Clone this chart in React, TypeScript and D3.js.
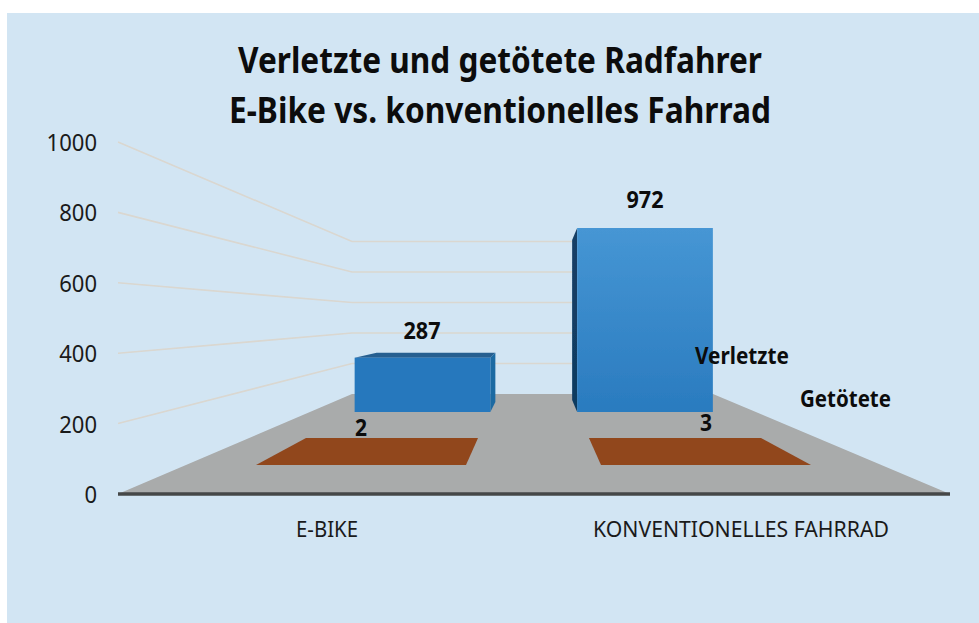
import React from "react";
import * as d3 from "d3";

const categories = ["E-BIKE", "KONVENTIONELLES FAHRRAD"];
const verletzte = [287, 972];
const getotete = [2, 3];
const yTicks = [0, 200, 400, 600, 800, 1000];
const titleLines = ["Verletzte und getötete Radfahrer", "E-Bike vs. konventionelles Fahrrad"];
const seriesNames = ["Verletzte", "Getötete"];

const W = 979, H = 623;
const FONT = "'Noto Sans', sans-serif";

const yFront = d3.scaleLinear().domain([0, 1000]).range([494, 142]);
const yBack = d3.scaleLinear().domain([0, 1000]).range([394, 241.5]);
const yBar = d3.scaleLinear().domain([0, 1000]).range([412, 222.7]);

const xBlue = d3.scaleBand<string>().domain(categories).range([311.25, 756.25]).paddingInner(0.39).paddingOuter(0.195);
const xBrownFront = d3.scaleBand<string>().domain(categories).range([256, 811]).paddingInner(0.3913).paddingOuter(0);
const xBrownBack = d3.scaleBand<string>().domain(categories).range([306, 761]).paddingInner(0.392).paddingOuter(0);

const catLabelX = [327, 741];
const catTextLen = [62, 296];

export default function App() {
  const floorY0 = yFront(0);
  const backY0 = yBack(0);
  const line = d3.line();
  const polyFill = (pts: [number, number][]) => line(pts) + "Z";

  return (
    <svg width={W} height={H} style={{ position: "absolute", left: 0, top: 0, background: "#fff" }} fontFamily={FONT}>
      <defs>
        <linearGradient id="blue" gradientUnits="userSpaceOnUse" x1="0" y1="228" x2="0" y2="412">
          <stop offset="0" stopColor="#4696d4" />
          <stop offset="1" stopColor="#2a7bbf" />
        </linearGradient>
        <linearGradient id="dark" gradientUnits="userSpaceOnUse" x1="0" y1="228" x2="0" y2="412">
          <stop offset="0" stopColor="#143f66" />
          <stop offset="1" stopColor="#103a60" />
        </linearGradient>
        <filter id="soft" x="-5%" y="-5%" width="110%" height="110%">
          <feGaussianBlur stdDeviation="0.5" />
        </filter>
      </defs>
      <rect x={7} y={13} width={W - 7} height={H - 13} fill="#d2e5f3" />

      <g filter="url(#soft)">
        {yTicks.filter((t) => t > 0).map((t) => (
          <path
            key={t}
            d={line([[118, yFront(t)], [352, yBack(t)], [712, yBack(t)]]) || ""}
            fill="none"
            stroke="#dad7d0"
            strokeWidth={1.6}
          />
        ))}
        <path d={polyFill([[118, floorY0], [352, backY0], [713, backY0], [950, floorY0]])} fill="#a9abab" />
        <line x1={118} x2={950} y1={floorY0} y2={floorY0} stroke="#444647" strokeWidth={3.5} />

        {categories.map((c) => {
          const xF = xBrownFront(c)!;
          const xB = xBrownBack(c)!;
          return (
            <path
              key={c}
              d={polyFill([
                [xB, 438],
                [xB + xBrownBack.bandwidth(), 438],
                [xF + xBrownFront.bandwidth(), 465],
                [xF, 465],
              ])}
              fill="#91461e"
            />
          );
        })}

        {categories.map((c, i) => {
          const x0 = xBlue(c)!;
          const x1 = x0 + xBlue.bandwidth();
          const top = yBar(verletzte[i]);
          const bottom = yBar(0);
          if (i === 0) {
            return (
              <g key={c}>
                <path d={polyFill([[x0, top], [x0 + 22, top - 5], [x1 + 5, top - 5], [x1, top]])} fill="#255f90" />
                <path d={polyFill([[x1, top], [x1 + 5, top - 5], [x1 + 5, bottom - 10], [x1, bottom]])} fill="#1f6aa2" />
                <rect x={x0} y={top} width={x1 - x0} height={bottom - top} fill="#2678bd" />
              </g>
            );
          }
          return (
            <g key={c}>
              <path d={polyFill([[x0, top], [x0 - 5, top + 12], [x0 - 5, bottom - 12], [x0, bottom]])} fill="url(#dark)" />
              <rect x={x0} y={top} width={x1 - x0} height={bottom - top} fill="url(#blue)" />
            </g>
          );
        })}
      </g>

      <g fill="#0c0c0c">
        {titleLines.map((t, i) => (
          <text key={t} x={500} y={73 + i * 50} textAnchor="middle" fontSize={35} fontWeight={700} textLength={i === 0 ? 524 : 542} lengthAdjust="spacingAndGlyphs">
            {t}
          </text>
        ))}
        {yTicks.map((t) => (
          <text key={t} x={97} y={yFront(t) + 9} textAnchor="end" fontSize={23} fill="#1a1a1a" textLength={String(t).length * 12.6} lengthAdjust="spacingAndGlyphs">
            {t}
          </text>
        ))}
        {categories.map((c, i) => (
          <text key={c} x={catLabelX[i]} y={537} textAnchor="middle" fontSize={22} fill="#1a1a1a" textLength={catTextLen[i]} lengthAdjust="spacingAndGlyphs">
            {c}
          </text>
        ))}
        <text x={422} y={339} textAnchor="middle" fontSize={23} fontWeight={700} textLength={37} lengthAdjust="spacingAndGlyphs">{verletzte[0]}</text>
        <text x={645} y={208} textAnchor="middle" fontSize={23} fontWeight={700} textLength={37} lengthAdjust="spacingAndGlyphs">{verletzte[1]}</text>
        <text x={361} y={436} textAnchor="middle" fontSize={23} fontWeight={700} textLength={12} lengthAdjust="spacingAndGlyphs">{getotete[0]}</text>
        <text x={706} y={431} textAnchor="middle" fontSize={23} fontWeight={700} textLength={12} lengthAdjust="spacingAndGlyphs">{getotete[1]}</text>
        <text x={695} y={364} fontSize={23} fontWeight={700} textLength={94} lengthAdjust="spacingAndGlyphs">{seriesNames[0]}</text>
        <text x={800} y={407} fontSize={23} fontWeight={700} textLength={91} lengthAdjust="spacingAndGlyphs">{seriesNames[1]}</text>
      </g>
    </svg>
  );
}
